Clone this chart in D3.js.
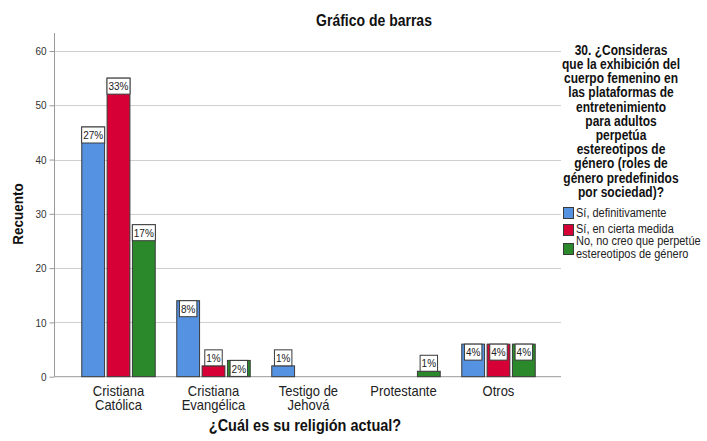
<!DOCTYPE html>
<html>
<head>
<meta charset="utf-8">
<script src="https://cdn.jsdelivr.net/npm/d3@7"></script>
<style>
  html, body { margin: 0; padding: 0; background: #fff; }
  svg { display: block; font-family: "Liberation Sans", Arial, sans-serif; }
</style>
</head>
<body>
<svg id="chart" width="707" height="441"></svg>
<script>
// Religión actual (categorías del eje X)
const categories = [
  ["Cristiana", "Católica"],
  ["Cristiana", "Evangélica"],
  ["Testigo de", "Jehová"],
  ["Protestante"],
  ["Otros"]
];
const categoryKeys = ["Cristiana Católica", "Cristiana Evangélica", "Testigo de Jehová", "Protestante", "Otros"];

// Respuestas (series)
const seriesNames = [
  "Sí, definitivamente",
  "Sí, en cierta medida",
  "No, no creo que perpetúe estereotipos de género"
];
const seriesColors = ["#5593E2", "#D70036", "#2B892B"];

// Recuento por religión y respuesta (null = sin casos)
const siDefinitivamente = [46, 14, 2, null, 6];
const siCiertaMedida    = [55, 2, null, null, 6];
const noPerpetua        = [28, 3, null, 1, 6];

// Porcentajes del total que muestran las etiquetas
const pctSiDefinitivamente = ["27%", "8%", "1%", null, "4%"];
const pctSiCiertaMedida    = ["33%", "1%", null, null, "4%"];
const pctNoPerpetua        = ["17%", "2%", null, "1%", "4%"];

const yTicks = [0, 10, 20, 30, 40, 50, 60];

const legendTitleLines = [
  "30. ¿Consideras",
  "que la exhibición del",
  "cuerpo femenino en",
  "las plataformas de",
  "entretenimiento",
  "para adultos",
  "perpetúa",
  "estereotipos de",
  "género (roles de",
  "género predefinidos",
  "por sociedad)?"
];
const legendItemLines = [
  ["Sí, definitivamente"],
  ["Sí, en cierta medida"],
  ["No, no creo que perpetúe", "estereotipos de género"]
];

const counts = [siDefinitivamente, siCiertaMedida, noPerpetua];
const pcts = [pctSiDefinitivamente, pctSiCiertaMedida, pctNoPerpetua];

const svg = d3.select("#chart");
const SY = 1.15; // vertical text stretch

function stretch(sel) {
  sel.each(function () {
    const t = d3.select(this);
    const x = +t.attr("x") || 0, y = +t.attr("y") || 0;
    const prev = t.attr("transform") || "";
    t.attr("transform", `${prev} translate(${x},${y}) scale(1,${SY}) translate(${-x},${-y})`);
  });
}

const plot = { left: 54.5, right: 561, top: 33, bottom: 376.7 };

const y = d3.scaleLinear().domain([0, 60]).range([plot.bottom, 51]);
const x0 = d3.scaleBand().domain(categoryKeys).range([71, 546]).paddingInner(0.2).paddingOuter(0.1);
const x1 = d3.scaleBand().domain(d3.range(3)).range([0, x0.bandwidth()]).paddingInner(0.1).paddingOuter(0.05);

// gridlines
svg.append("g").selectAll("line").data(yTicks.filter(d => d > 0)).join("line")
  .attr("x1", plot.left).attr("x2", plot.right)
  .attr("y1", d => Math.round(y(d)) + 0.5).attr("y2", d => Math.round(y(d)) + 0.5)
  .attr("stroke", "#cfcfcf").attr("stroke-width", 1);

// y axis
const yAxis = svg.append("g")
  .attr("transform", `translate(${plot.left},0)`)
  .call(d3.axisLeft(y).tickValues(yTicks).tickSize(5).tickPadding(3).tickSizeOuter(0));
yAxis.select(".domain").remove();
yAxis.selectAll(".tick line").attr("stroke", "#999");
yAxis.selectAll(".tick text").attr("font-size", 10).attr("fill", "#333")
  .attr("font-family", "Liberation Sans, Arial, sans-serif");
stretch(yAxis.selectAll(".tick text"));
svg.append("line").attr("x1", plot.left).attr("x2", plot.left)
  .attr("y1", plot.top).attr("y2", plot.bottom).attr("stroke", "#999");
svg.append("line").attr("x1", plot.left).attr("x2", plot.right)
  .attr("y1", plot.bottom).attr("y2", plot.bottom).attr("stroke", "#999");

// bars
const barData = [];
categoryKeys.forEach((c, ci) => {
  counts.forEach((arr, si) => {
    if (arr[ci] != null) barData.push({ cat: c, s: si, v: arr[ci], pct: pcts[si][ci] });
  });
});

const bars = svg.append("g");
bars.selectAll("rect").data(barData).join("rect")
  .attr("x", d => x0(d.cat) + x1(d.s))
  .attr("y", d => y(d.v))
  .attr("width", x1.bandwidth())
  .attr("height", d => plot.bottom - y(d.v))
  .attr("fill", d => seriesColors[d.s])
  .attr("stroke", "#3a3a3a").attr("stroke-width", 1);

// value labels: inside the bar top when it fits, otherwise just above it
const labelH = 16;
const lbl = svg.append("g");
barData.forEach(d => {
  const cx = x0(d.cat) + x1(d.s) + x1.bandwidth() / 2;
  const barTop = y(d.v);
  const fits = plot.bottom - barTop >= labelH - 0.5;
  const top = fits ? barTop : barTop - labelH;
  const g = lbl.append("g");
  const t = g.append("text").attr("x", cx).attr("y", top + 12.2)
    .attr("text-anchor", "middle").attr("font-size", 10).attr("fill", "#222").text(d.pct);
  const w = t.node().getComputedTextLength() + 3;
  g.insert("rect", "text").attr("x", cx - w / 2).attr("y", top).attr("width", w).attr("height", labelH)
    .attr("fill", "#fff").attr("stroke", "#3a3a3a").attr("stroke-width", 1);
  stretch(t);
});

// category labels
const catG = svg.append("g");
categories.forEach((lines, i) => {
  const cx = x0(categoryKeys[i]) + x0.bandwidth() / 2;
  lines.forEach((ln, j) => {
    catG.append("text").attr("x", cx).attr("y", 396.5 + j * 13.6)
      .attr("text-anchor", "middle").attr("font-size", 13).attr("fill", "#222").text(ln);
  });
});
stretch(catG.selectAll("text"));

// titles
const titles = svg.append("g");
titles.append("text").attr("x", 374).attr("y", 26.5).attr("text-anchor", "middle")
  .attr("font-size", 14).attr("font-weight", "bold").attr("fill", "#111").text("Gráfico de barras");
titles.append("text").attr("x", 305).attr("y", 431.5).attr("text-anchor", "middle")
  .attr("font-size", 14.5).attr("font-weight", "bold").attr("fill", "#111").text("¿Cuál es su religión actual?");
stretch(titles.selectAll("text"));

svg.append("text").attr("x", 0).attr("y", 0).attr("text-anchor", "middle")
  .attr("font-size", 13.5).attr("font-weight", "bold").attr("fill", "#111").text("Recuento")
  .attr("transform", `translate(23,214) rotate(-90) scale(1,${SY})`);

// legend
const leg = svg.append("g");
legendTitleLines.forEach((ln, i) => {
  leg.append("text").attr("x", 621).attr("y", 55 + i * 14.17)
    .attr("text-anchor", "middle").attr("font-size", 12).attr("font-weight", "bold")
    .attr("fill", "#111").text(ln);
});
const swatchY = [207, 224, 243];
const textY = [[217.5], [233.5], [245, 257.6]];
legendItemLines.forEach((lines, i) => {
  leg.append("rect").attr("x", 563.5).attr("y", swatchY[i] + 0.5).attr("width", 10).attr("height", 11)
    .attr("fill", seriesColors[i]).attr("stroke", "#3a3a3a").attr("stroke-width", 1);
  lines.forEach((ln, j) => {
    leg.append("text").attr("x", 576).attr("y", textY[i][j])
      .attr("font-size", 11).attr("fill", "#222").text(ln);
  });
});
stretch(leg.selectAll("text"));
</script>
</body>
</html>
